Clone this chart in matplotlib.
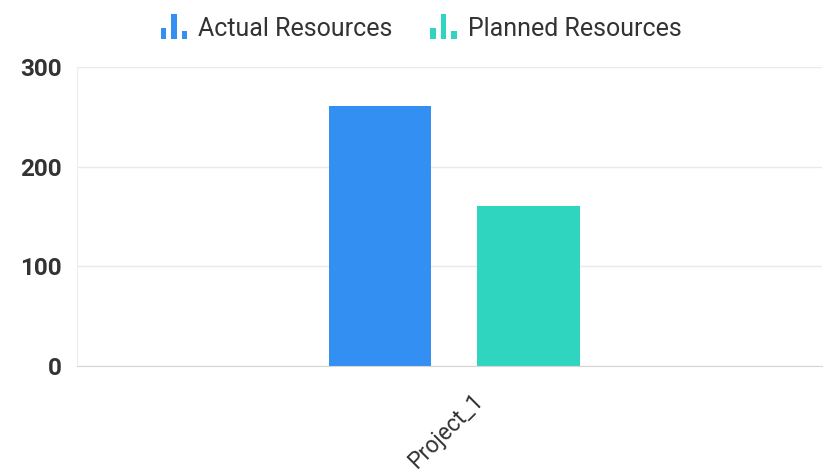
import matplotlib
matplotlib.use("Agg")
import matplotlib.pyplot as plt
import matplotlib.transforms as mtrans
from matplotlib.legend_handler import HandlerBase
from matplotlib.patches import Rectangle

# data
categories = ["Project_1"]
series_names = ["Actual Resources", "Planned Resources"]
actual = [261]
planned = [161]
colors = ["#3390f2", "#30d5c0"]

plt.rcParams["font.family"] = ["Roboto", "DejaVu Sans"]


class BarIconHandler(HandlerBase):
    """little three-bar chart icon used as legend key"""
    def create_artists(self, legend, orig_handle, xdescent, ydescent,
                       width, height, fontsize, trans):
        c = orig_handle.get_facecolor()
        w = width / 5.0
        hs = [0.45, 1.0, 0.3]
        arts = []
        for i, h in enumerate(hs):
            r = Rectangle((xdescent + i * 1.9 * w, -ydescent - height * 0.15), w,
                          height * h * 1.4,
                          facecolor=c, edgecolor="none", transform=trans)
            arts.append(r)
        return arts


fig = plt.figure(figsize=(8.24, 4.75), dpi=100, facecolor="white")
ax = fig.add_axes([0.0934, 0.2295, 0.9046, 0.6295])

x = range(len(categories))
bw = 0.138
off = 0.0995
b1 = ax.bar([i - off for i in x], actual, width=bw, color=colors[0], label=series_names[0])
b2 = ax.bar([i + off for i in x], planned, width=bw, color=colors[1], label=series_names[1])

ax.set_xlim(-0.506, 0.494)
ax.set_ylim(0, 300)
ax.set_yticks([0, 100, 200, 300])
ax.set_xticks(list(x))
ax.set_xticklabels(categories, rotation=45, ha="center", va="top",
                   fontsize=16.5, color="#333333")
ax.tick_params(axis="y", length=0, pad=11, labelsize=17.5, labelcolor="#333333")
ax.tick_params(axis="x", length=0, pad=17)
for t in ax.get_yticklabels():
    t.set_fontweight("bold")
# nudge the rotated category label a little to the left
shift = mtrans.ScaledTranslation(-8 / 100, 0, fig.dpi_scale_trans)
for t in ax.get_xticklabels():
    t.set_transform(t.get_transform() + shift)

ax.grid(axis="y", color="#eaeaea", lw=1)
ax.set_axisbelow(True)
for s in ["top", "right"]:
    ax.spines[s].set_visible(False)
ax.spines["left"].set_color("#eeeeee")
ax.spines["bottom"].set_color("#d6d6d6")

h1 = b1.patches[0]
h2 = b2.patches[0]
fig.legend(handles=[h1, h2], labels=series_names, loc="center",
           bbox_to_anchor=(0.511, 0.939), ncol=2, frameon=False, fontsize=18,
           handler_map={h1: BarIconHandler(), h2: BarIconHandler()},
           handlelength=1.1, handletextpad=0.4, columnspacing=1.5,
           labelcolor="#333333")

fig.savefig("out.png", dpi=100, facecolor="white")
